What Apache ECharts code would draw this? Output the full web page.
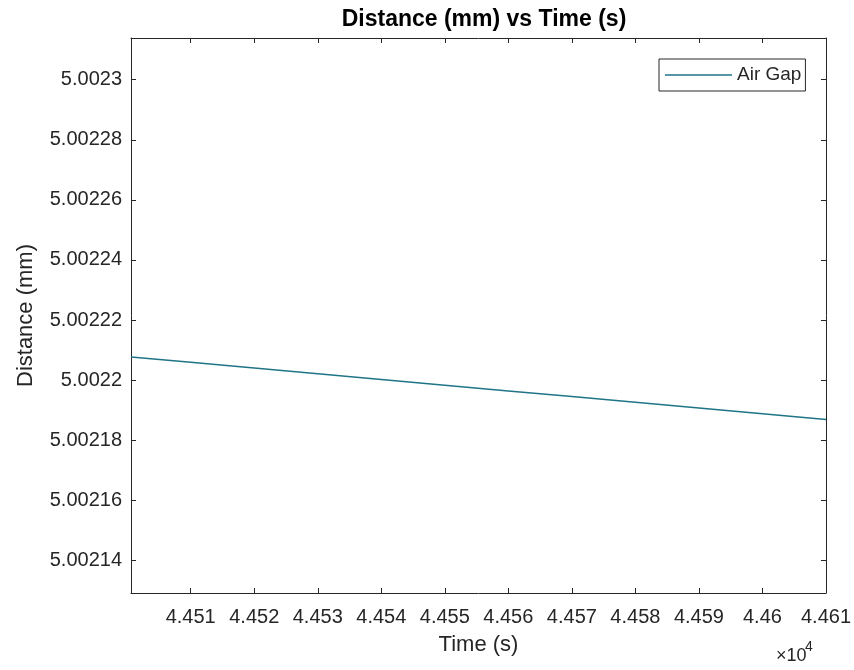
<!DOCTYPE html>
<html>
<head>
<meta charset="utf-8">
<script src="https://cdn.jsdelivr.net/npm/echarts@6/dist/echarts.min.js"></script>
<style>
html,body{margin:0;padding:0;background:#fff;}
#chart{width:854px;height:670px;}
</style>
</head>
<body>
<div id="chart"></div>
<script>
// Data
const timeValues = [44500.6, 44510, 44520, 44530, 44540, 44550, 44560, 44570, 44580, 44590, 44600, 44610];
const distanceValues = [5.0022077, 5.0022059, 5.0022040, 5.0022021, 5.0022002, 5.0021983, 5.0021964, 5.0021945, 5.0021926, 5.0021907, 5.0021888, 5.0021869];
const xTicks = [44510, 44520, 44530, 44540, 44550, 44560, 44570, 44580, 44590, 44600, 44610];
const yTicks = [5.00214, 5.00216, 5.00218, 5.0022, 5.00222, 5.00224, 5.00226, 5.00228, 5.0023];
const xRange = [44500.6, 44610];
const yRange = [5.0021291, 5.0023139];
const seriesName = 'Air Gap';

const axisColor = '#262626';
const textColor = '#262626';
const lineColor = '#1f7587';
const fontFamily = '"Liberation Sans", Arial, sans-serif';

const chart = echarts.init(document.getElementById('chart'), null, {renderer: 'canvas'});

const baseAxisLine = {show: true, onZero: false, lineStyle: {color: axisColor, width: 1}};
const baseTick = {show: true, inside: true, length: 5, lineStyle: {color: axisColor, width: 1}};

const option = {
  backgroundColor: '#ffffff',
  animation: false,
  title: {
    text: 'Distance (mm) vs Time (s)',
    left: 479,
    top: 3,
    textAlign: 'center',
    textStyle: {fontFamily: fontFamily, fontSize: 23, fontWeight: 'bold', color: '#000'}
  },
  grid: {left: 131, right: 27, top: 38, bottom: 77, containLabel: false},
  legend: {
    data: [{name: seriesName, icon: 'rect'}],
    left: 659,
    top: 59,
    orient: 'vertical',
    borderColor: axisColor,
    borderWidth: 1,
    backgroundColor: '#fff',
    padding: [6, 4, 6, 6],
    itemWidth: 67,
    itemHeight: 1.5,
    itemGap: 0,
    itemStyle: {color: lineColor},
    textStyle: {fontFamily: fontFamily, fontSize: 19, color: textColor, lineHeight: 20, padding: [0, 0, 0, 0]}
  },
  xAxis: [{
    type: 'value',
    position: 'bottom',
    min: xRange[0],
    max: xRange[1],
    axisLine: baseAxisLine,
    axisTick: Object.assign({customValues: xTicks}, baseTick),
    axisLabel: {
      customValues: xTicks,
      margin: 14,
      color: textColor,
      fontFamily: fontFamily,
      fontSize: 20,
      formatter: v => String(+(v / 1e4).toFixed(4))
    },
    splitLine: {show: false},
    name: 'Time (s)',
    nameLocation: 'middle',
    nameGap: 41,
    nameTextStyle: {fontFamily: fontFamily, fontSize: 22, color: textColor}
  }, {
    type: 'value',
    position: 'top',
    min: xRange[0],
    max: xRange[1],
    axisLine: baseAxisLine,
    axisTick: Object.assign({customValues: xTicks}, baseTick),
    axisLabel: {show: false},
    splitLine: {show: false}
  }],
  yAxis: [{
    type: 'value',
    position: 'left',
    min: yRange[0],
    max: yRange[1],
    axisLine: baseAxisLine,
    axisTick: Object.assign({customValues: yTicks}, baseTick),
    axisLabel: {
      customValues: yTicks,
      margin: 9,
      color: textColor,
      fontFamily: fontFamily,
      fontSize: 20,
      formatter: v => String(+v.toFixed(6))
    },
    splitLine: {show: false},
    name: 'Distance (mm)',
    nameLocation: 'middle',
    nameGap: 94,
    nameRotate: 90,
    nameTextStyle: {fontFamily: fontFamily, fontSize: 22, color: textColor}
  }, {
    type: 'value',
    position: 'right',
    min: yRange[0],
    max: yRange[1],
    axisLine: baseAxisLine,
    axisTick: Object.assign({customValues: yTicks}, baseTick),
    axisLabel: {show: false},
    splitLine: {show: false}
  }],
  series: [{
    name: seriesName,
    type: 'line',
    xAxisIndex: 0,
    yAxisIndex: 0,
    data: timeValues.map((t, i) => [t, distanceValues[i]]),
    symbol: 'none',
    lineStyle: {color: lineColor, width: 1.5},
    itemStyle: {color: lineColor},
    z: 3
  }],
  graphic: [{
    type: 'text',
    left: 776,
    top: 647,
    style: {text: '×10', fontFamily: fontFamily, fontSize: 18, fill: textColor}
  }, {
    type: 'text',
    left: 805,
    top: 640,
    style: {text: '4', fontFamily: fontFamily, fontSize: 14, fill: textColor}
  }]
};

chart.setOption(option);
</script>
</body>
</html>
